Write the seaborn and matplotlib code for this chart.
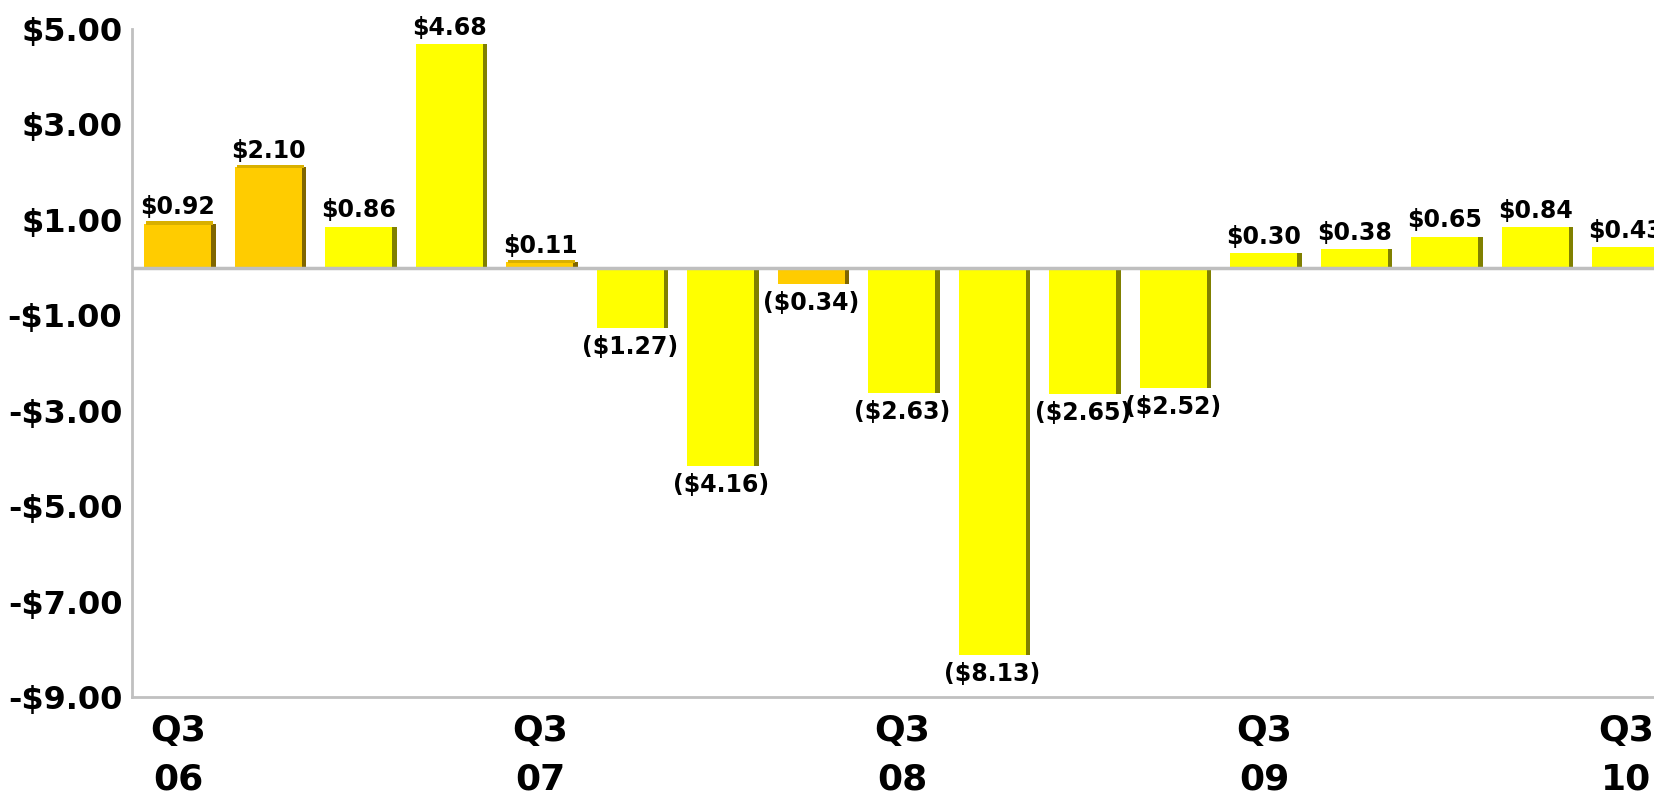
# Quarterly EPS bars, Q3 06 - Q3 10
import numpy as np
import pandas as pd
import matplotlib
matplotlib.use("Agg")
import matplotlib.pyplot as plt
import seaborn as sns

# data
quarters = ["Q3 06", "Q4 06", "Q1 07", "Q2 07", "Q3 07", "Q4 07", "Q1 08", "Q2 08",
            "Q3 08", "Q4 08", "Q1 09", "Q2 09", "Q3 09", "Q4 09", "Q1 10", "Q2 10", "Q3 10"]
eps = [0.92, 2.10, 0.86, 4.68, 0.11, -1.27, -4.16, -0.34,
       -2.63, -8.13, -2.65, -2.52, 0.30, 0.38, 0.65, 0.84, 0.43]
highlight = [True, True, False, False, True, False, False, True,
             False, False, False, False, False, False, False, False, False]
tick_labels = ["Q3\n06", "Q3\n07", "Q3\n08", "Q3\n09", "Q3\n10"]
y_ticks = [5, 3, 1, -1, -3, -5, -7, -9]

df = pd.DataFrame({"quarter": quarters, "eps": eps, "hl": highlight})

sns.set_style("white")
plt.rcParams["font.family"] = ["DejaVu Sans"]
plt.rcParams["font.weight"] = "bold"
plt.rcParams["text.color"] = "black"
plt.rcParams["xtick.color"] = "black"
plt.rcParams["ytick.color"] = "black"

fig = plt.figure(figsize=(16.54, 7.94), dpi=100)
ax = fig.add_axes([0.0798, 0.1222, 0.9202, 0.8413])

face_colors = ["#FFCC00" if h else "#FFFF00" for h in highlight]
side_colors = ["#806600" if h else "#808000" for h in highlight]
bar_w = 0.74

sns.barplot(data=df, x="quarter", y="eps", hue="quarter", palette=face_colors,
            legend=False, width=bar_w, saturation=1, linewidth=0, ax=ax, zorder=3)

# side strip for the 3D look
pos = np.arange(len(eps))
ax.bar(pos + bar_w / 2 + 0.022, df["eps"], width=0.046, color=side_colors,
       linewidth=0, zorder=3)
# thin top edge on the raised bars
for p, v, h in zip(pos, eps, highlight):
    if v > 0 and h:
        ax.bar(p + 0.02, 0.07, bottom=v - 0.02, width=bar_w, color="#D9B000",
               linewidth=0, zorder=3)

# value labels
for p, v in zip(pos, eps):
    if v >= 0:
        ax.annotate(f"${v:.2f}", (p, v), xytext=(0, 3), textcoords="offset points",
                    ha="center", va="bottom", fontsize=17, fontweight="bold",
                    color="black", zorder=5)
    else:
        ax.annotate(f"(${-v:.2f})", (p, v), xytext=(0, -5), textcoords="offset points",
                    ha="center", va="top", fontsize=17, fontweight="bold",
                    color="black", zorder=5)

ax.axhline(0, color="#BFBFBF", lw=2.5, zorder=4)
ax.set_ylim(-9, 5)
ax.set_xlim(-0.508, 16.31)
ax.set_yticks(y_ticks)
ax.set_yticklabels([f"${t:.2f}" if t >= 0 else f"-${-t:.2f}" for t in y_ticks],
                   fontsize=23, fontweight="bold")
ax.set_xticks([0, 4, 8, 12, 16])
ax.set_xticklabels(tick_labels, fontsize=26, fontweight="bold", linespacing=1.55)
ax.tick_params(axis="y", length=0, pad=7, labelcolor="black")
ax.tick_params(axis="x", length=0, pad=12, labelcolor="black")
ax.set_xlabel("")
ax.set_ylabel("")

sns.despine(ax=ax, top=True, right=True)
for s in ["left", "bottom"]:
    ax.spines[s].set_color("#C0C0C0")
    ax.spines[s].set_linewidth(2)

fig.savefig("out.png", dpi=100)
